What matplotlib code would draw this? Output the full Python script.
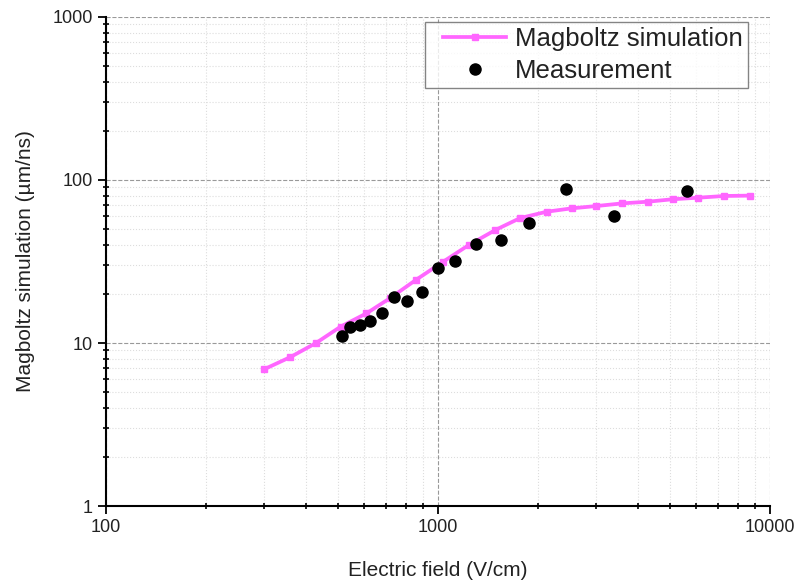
import matplotlib
matplotlib.use("Agg")
import matplotlib.pyplot as plt
from matplotlib.lines import Line2D
from matplotlib.legend_handler import HandlerLine2D
from matplotlib.ticker import LogLocator, FixedFormatter, FixedLocator

plt.rcParams['font.family'] = ['Liberation Sans', 'DejaVu Sans']

# Magboltz simulation (drift velocity vs field)
sim_field = [300, 360, 430, 510, 610, 720, 860, 1040, 1240, 1490,
             1770, 2130, 2530, 3000, 3600, 4300, 5100, 6100, 7300, 8700]
sim_velocity = [6.9, 8.2, 10.0, 12.6, 15.2, 18.9, 24.4, 31.6, 39.9, 49.3,
                58.4, 63.9, 67.0, 69.2, 71.9, 73.6, 76.2, 77.9, 79.8, 80.2]

# Measured points
meas_field = [513, 546, 582, 627, 680, 736, 808, 894, 1002, 1131,
              1308, 1546, 1884, 2432, 3388, 5634]
meas_velocity = [11.0, 12.5, 12.9, 13.6, 15.3, 19.2, 18.2, 20.6, 29.0, 32.0,
                 40.5, 42.8, 54.2, 87.7, 60.1, 86.0]

fig = plt.figure(figsize=(8.01, 5.86), dpi=100)
ax = fig.add_axes([0.132, 0.1365, 0.829, 0.8345])

ax.plot(sim_field, sim_velocity, color='#FF66FF', lw=2.7, marker='s',
        markersize=5, label='Magboltz simulation', zorder=3)
ax.plot(meas_field, meas_velocity, 'o', color='black', markersize=8,
        label='Measurement', zorder=4)

ax.set_xscale('log')
ax.set_yscale('log')
ax.set_xlim(100, 10000)
ax.set_ylim(1, 1000)

ax.xaxis.set_major_locator(FixedLocator([100, 1000, 10000]))
ax.xaxis.set_major_formatter(FixedFormatter(['100', '1000', '10000']))
ax.yaxis.set_major_locator(FixedLocator([1, 10, 100, 1000]))
ax.yaxis.set_major_formatter(FixedFormatter(['1', '10', '100', '1000']))
ax.xaxis.set_minor_locator(LogLocator(base=10, subs=range(2, 10)))
ax.yaxis.set_minor_locator(LogLocator(base=10, subs=range(2, 10)))
ax.xaxis.set_minor_formatter(plt.NullFormatter())
ax.yaxis.set_minor_formatter(plt.NullFormatter())

ax.grid(True, which='major', color='#999999', ls='--', lw=0.8)
ax.grid(True, which='minor', color='#dddddd', ls=':', lw=0.8)
ax.set_axisbelow(True)

for side in ['top', 'right']:
    ax.spines[side].set_visible(False)
ax.spines['left'].set_linewidth(1.5)
ax.spines['bottom'].set_linewidth(1.5)
ax.tick_params(which='major', direction='out', length=6, width=1.3,
               labelsize=13, labelcolor='#222222')
ax.tick_params(which='minor', direction='inout', length=5, width=1.2)

ax.set_xlabel('Electric field (V/cm)', fontsize=15, labelpad=18, color='#222222')
ax.set_ylabel('Magboltz simulation (µm/ns)', fontsize=15, labelpad=12, color='#222222')

# pad the legend handles so there is room left of the line, like the original
leg = ax.legend(loc='upper right', fontsize=18.5, frameon=True, fancybox=False,
                edgecolor='#666666', handlelength=2.95, handletextpad=0.35,
                borderpad=0.2, labelspacing=0.3, borderaxespad=0,
                bbox_to_anchor=(748 / 801, 1 - 22 / 586),
                bbox_transform=fig.transFigure,
                handler_map={Line2D: HandlerLine2D(xpad=0.5)})
leg.get_frame().set_linewidth(1.0)
for t in leg.get_texts():
    t.set_color('#222222')

fig.savefig('out.png', dpi=100)
